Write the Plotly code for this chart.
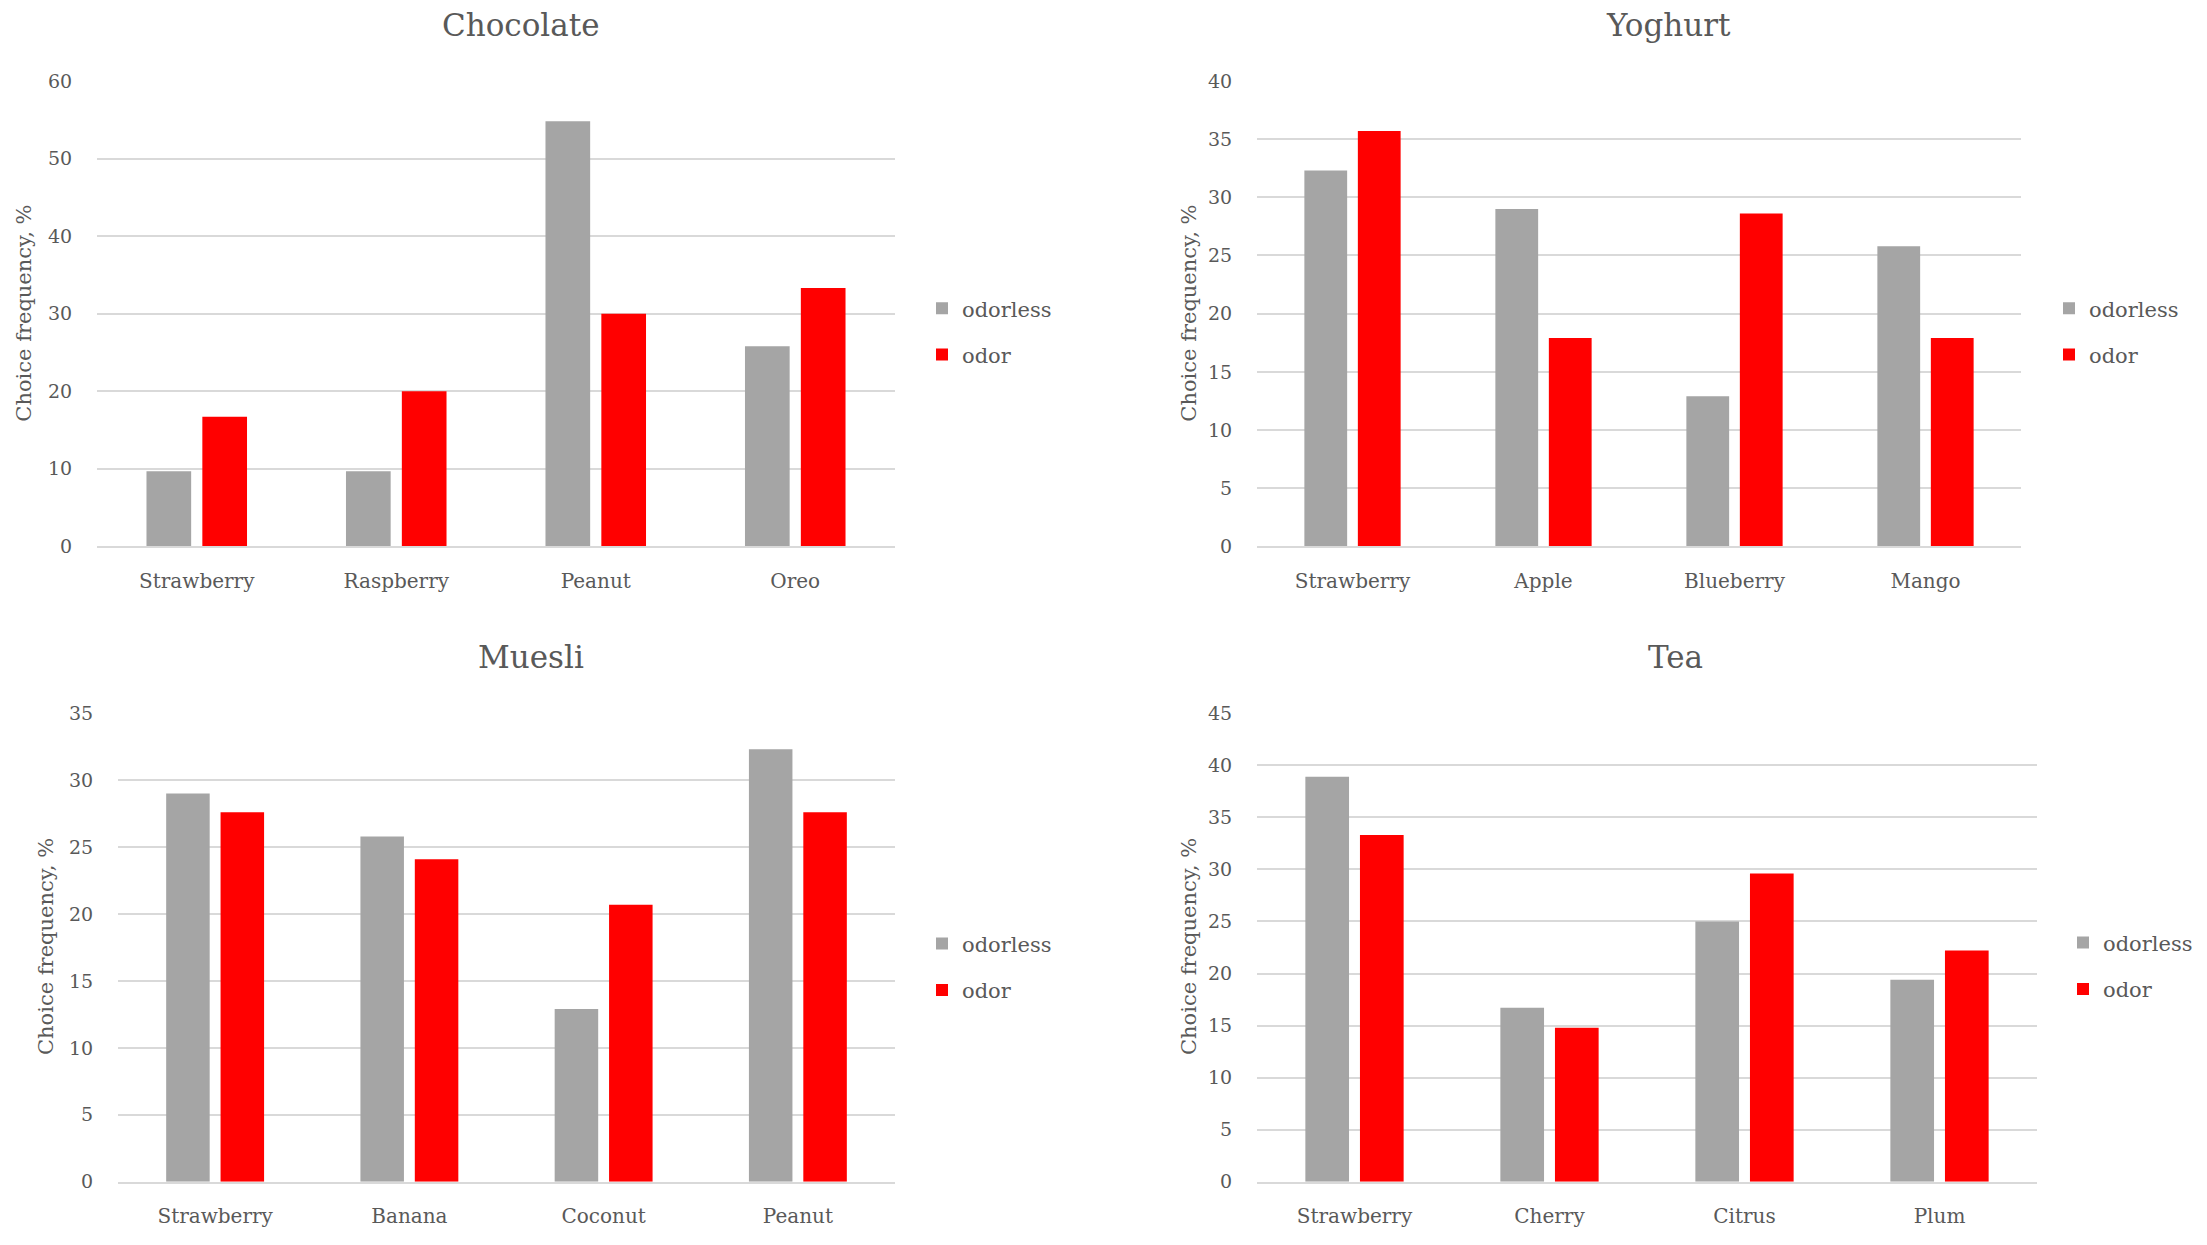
import plotly.graph_objects as go

W, H = 2207, 1245

series_names = ["odorless", "odor"]
colors = {"odorless": "#A5A5A5", "odor": "#FF0000"}

choc_cats = ["Strawberry", "Raspberry", "Peanut", "Oreo"]
choc_odorless = [9.7, 9.7, 54.8, 25.8]
choc_odor = [16.7, 20.0, 30.0, 33.3]

yog_cats = ["Strawberry", "Apple", "Blueberry", "Mango"]
yog_odorless = [32.3, 29.0, 12.9, 25.8]
yog_odor = [35.7, 17.9, 28.6, 17.9]

mue_cats = ["Strawberry", "Banana", "Coconut", "Peanut"]
mue_odorless = [29.0, 25.8, 12.9, 32.3]
mue_odor = [27.6, 24.1, 20.7, 27.6]

tea_cats = ["Strawberry", "Cherry", "Citrus", "Plum"]
tea_odorless = [38.9, 16.7, 25.0, 19.4]
tea_odor = [33.3, 14.8, 29.6, 22.2]

titles = ["Chocolate", "Yoghurt", "Muesli", "Tea"]
y_title = "Choice frequency, %"
y_max = [60, 40, 35, 45]
y_step = [10, 5, 5, 5]

FONT = "DejaVu Serif"
TXT = "#595959"
GRID = "#D9D9D9"

def px(x):
    return x / W

def py(y):
    # calibrated mapping from target screen y to figure paper coordinate
    fy = (y - 10) / 0.9834
    return 1 - fy / H

# panel layout in pixels: (left, right, top, bottom)
panels = [
    (97, 895, 80, 546),
    (1257, 2021, 80, 546),
    (118, 895, 713, 1182),
    (1257, 2037, 713, 1182),
]
title_pos = [(521, 24), (1668, 24), (531, 657), (1675, 657)]
ytitle_pos = [(24, 313), (1189, 313), (46, 947), (1189, 947)]
legend_pos = [(922, 331), (2049, 331), (922, 967), (2063, 966)]

data = [
    (choc_cats, choc_odorless, choc_odor),
    (yog_cats, yog_odorless, yog_odor),
    (mue_cats, mue_odorless, mue_odor),
    (tea_cats, tea_odorless, tea_odor),
]

fig = go.Figure()
layout = dict(
    width=W, height=H, margin=dict(l=0, r=0, t=0, b=0),
    paper_bgcolor="white", plot_bgcolor="white",
    barmode="group", bargap=0.44, bargroupgap=0.2,
    font=dict(family=FONT, color=TXT, size=20),
    showlegend=True,
)
annotations = []
for i, (cats, v0, v1) in enumerate(data):
    n = "" if i == 0 else str(i + 1)
    leg = "legend" + n
    for name, vals in zip(series_names, [v0, v1]):
        fig.add_trace(go.Bar(
            x=cats, y=vals, name=name,
            marker=dict(color=colors[name], line=dict(width=0)),
            xaxis="x" + n, yaxis="y" + n, legend=leg,
            legendgroup=f"{name}{i}", showlegend=True,
        ))
    l, r, t, b = panels[i]
    layout["xaxis" + n] = dict(
        domain=[px(l), px(r)], anchor="y" + n,
        showline=True, linecolor=GRID, linewidth=1.5,
        showgrid=False, ticks="outside", ticklen=16, tickcolor="rgba(0,0,0,0)",
        tickfont=dict(family=FONT, size=20, color=TXT),
        fixedrange=True,
    )
    layout["yaxis" + n] = dict(
        domain=[py(b), py(t)], anchor="x" + n,
        range=[0, y_max[i]], dtick=y_step[i], tick0=0,
        showgrid=True, gridcolor=GRID, gridwidth=1.5,
        zeroline=False, showline=False,
        ticks="outside", ticklen=20, tickcolor="rgba(0,0,0,0)",
        tickfont=dict(family=FONT, size=19, color=TXT),
        fixedrange=True,
    )
    lx, ly = legend_pos[i]
    layout[leg] = dict(
        x=px(lx), y=py(ly), xanchor="left", yanchor="middle",
        font=dict(family=FONT, size=21, color=TXT),
        bgcolor="rgba(0,0,0,0)", tracegroupgap=16,
        itemclick=False, itemdoubleclick=False,
    )
    tx, ty = title_pos[i]
    annotations.append(dict(
        text=titles[i], x=px(tx), y=py(ty), xref="paper", yref="paper",
        xanchor="center", yanchor="middle", showarrow=False,
        font=dict(family=FONT, size=31, color=TXT),
    ))
    yx, yy = ytitle_pos[i]
    annotations.append(dict(
        text=y_title, x=px(yx), y=py(yy), xref="paper", yref="paper",
        xanchor="center", yanchor="middle", showarrow=False, textangle=-90,
        font=dict(family=FONT, size=21, color=TXT),
    ))

layout["annotations"] = annotations
fig.update_layout(**layout)
fig.write_html("out.html", config={"displayModeBar": False})
